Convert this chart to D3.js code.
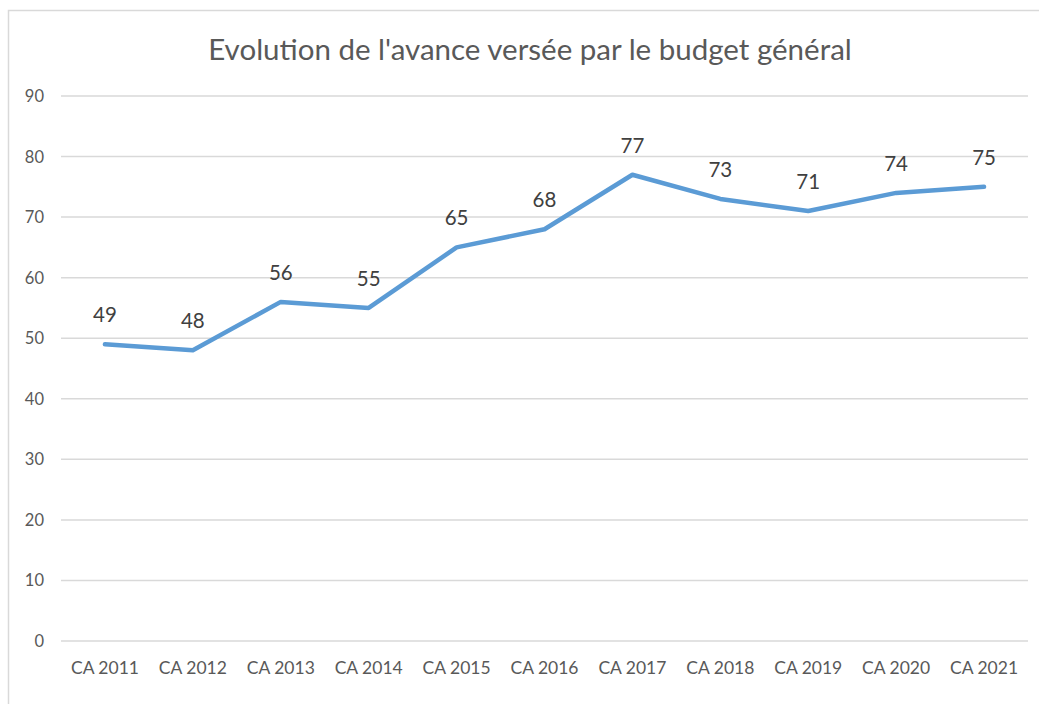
<!DOCTYPE html>
<html>
<head>
<meta charset="utf-8">
<script src="https://cdn.jsdelivr.net/npm/d3@7"></script>
<style>
  body { margin: 0; background: #fff; }
  text { font-family: Lato, "Open Sans", sans-serif; fill: #595959; }
</style>
</head>
<body>
<div id="chart"></div>
<script>
const categories = ["CA 2011", "CA 2012", "CA 2013", "CA 2014", "CA 2015", "CA 2016",
    "CA 2017", "CA 2018", "CA 2019", "CA 2020", "CA 2021"]
const values = [49, 48, 56, 55, 65, 68, 77, 73, 71, 74, 75]
const yTicks = [0, 10, 20, 30, 40, 50, 60, 70, 80, 90]
const title = "Evolution de l'avance versée par le budget général"

const width = 1039, height = 704
const margin = { top: 96, right: 11, bottom: 63, left: 61 }

const svg = d3.select("#chart").append("svg")
    .attr("width", width)
    .attr("height", height)

// chart frame
svg.append("rect")
    .attr("x", 8.5).attr("y", 10.5)
    .attr("width", width + 10).attr("height", height + 10)
    .attr("fill", "none")
    .attr("stroke", "#d9d9d9")
    .attr("stroke-width", 1.5)

const xScale = d3.scaleBand()
    .domain(categories)
    .range([margin.left, width - margin.right])

const yScale = d3.scaleLinear()
    .domain([0, 90])
    .range([height - margin.bottom, margin.top])

svg.append("text")
    .attr("x", 530).attr("y", 60)
    .attr("text-anchor", "middle")
    .style("font-size", "29.5px")
    .text(title)

// gridlines
svg.append("g")
    .selectAll("line")
    .data(yTicks)
    .enter()
    .append("line")
    .attr("x1", margin.left).attr("x2", width - margin.right)
    .attr("y1", d => yScale(d)).attr("y2", d => yScale(d))
    .attr("stroke", "#d9d9d9")
    .attr("stroke-width", 1.5)

svg.append("g")
    .selectAll("text")
    .data(yTicks)
    .enter()
    .append("text")
    .attr("x", 44)
    .attr("y", d => yScale(d) + 6)
    .attr("text-anchor", "end")
    .style("font-size", "16.5px")
    .text(d => d)

svg.append("g")
    .selectAll("text")
    .data(categories)
    .enter()
    .append("text")
    .attr("x", d => xScale(d) + xScale.bandwidth() / 2)
    .attr("y", 674)
    .attr("text-anchor", "middle")
    .style("font-size", "17.5px")
    .text(d => d)

const line = d3.line()
    .x((d, i) => xScale(categories[i]) + xScale.bandwidth() / 2)
    .y(d => yScale(d))

svg.append("path")
    .datum(values)
    .attr("d", line)
    .attr("fill", "none")
    .attr("stroke", "#5b9bd5")
    .attr("stroke-width", 4.5)
    .attr("stroke-linecap", "round")
    .attr("stroke-linejoin", "round")

svg.append("g")
    .selectAll("text")
    .data(values)
    .enter()
    .append("text")
    .attr("x", (d, i) => xScale(categories[i]) + xScale.bandwidth() / 2)
    .attr("y", d => yScale(d) - 22)
    .attr("text-anchor", "middle")
    .style("font-size", "20.5px")
    .style("fill", "#404040")
    .text(d => d)
</script>
</body>
</html>
